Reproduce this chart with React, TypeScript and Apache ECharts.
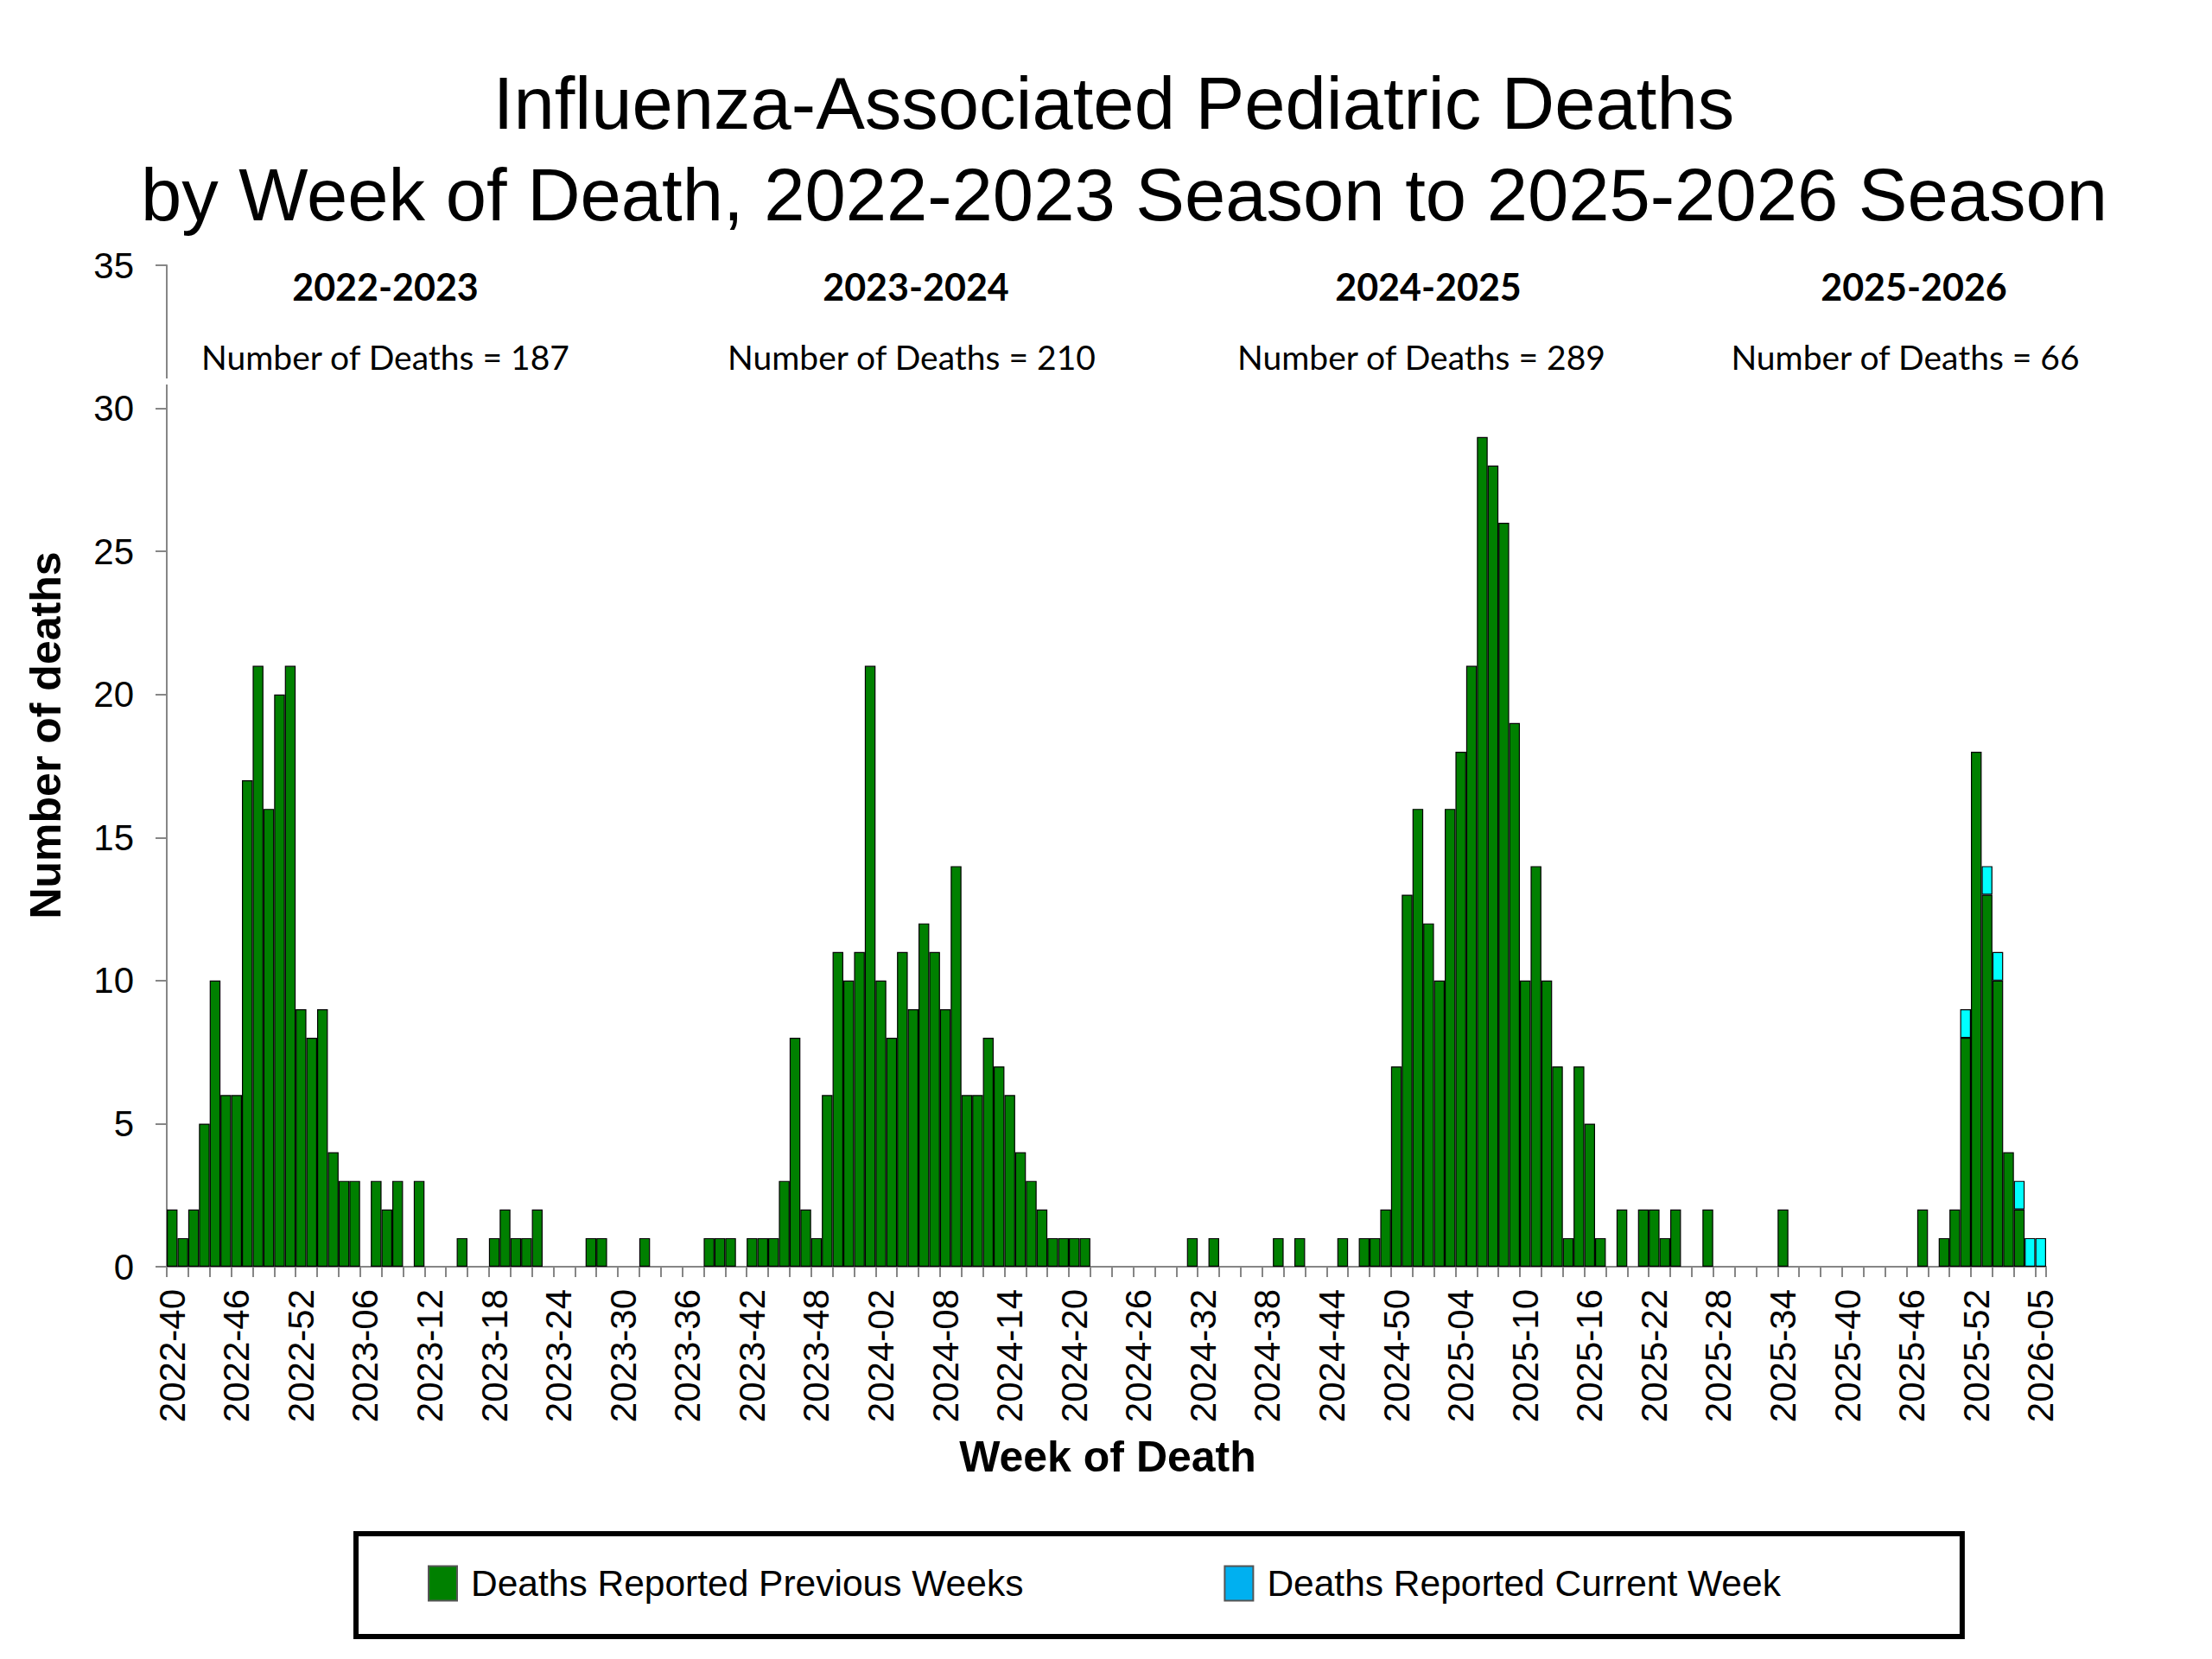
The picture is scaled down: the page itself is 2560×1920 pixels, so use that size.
import { useEffect, useRef } from "react";
import * as echarts from "echarts";

// MMWR weeks shown on the axis, 2022-40 through 2026-05 (2025 has 53 weeks)
const weekRanges = [
  { year: 2022, first: 40, last: 52 },
  { year: 2023, first: 1, last: 52 },
  { year: 2024, first: 1, last: 52 },
  { year: 2025, first: 1, last: 53 },
  { year: 2026, first: 1, last: 5 },
];

const weeks: string[] = [];
weekRanges.forEach((r) => {
  for (let w = r.first; w <= r.last; w++) {
    weeks.push(r.year + "-" + String(w).padStart(2, "0"));
  }
});

// deaths reported in previous weeks, one value per week
const previousWeeks = [
  2, 1, 2, 5, 10, 6, 6, 17, 21, 16, 20, 21, 9, // 2022-40..52
  8, 9, 4, 3, 3, 0, 3, 2, 3, 0, 3, 0, 0, // 2023-01..13
  0, 1, 0, 0, 1, 2, 1, 1, 2, 0, 0, 0, 0, // 2023-14..26
  1, 1, 0, 0, 0, 1, 0, 0, 0, 0, 0, 1, 1, // 2023-27..39
  1, 0, 1, 1, 1, 3, 8, 2, 1, 6, 11, 10, 11, // 2023-40..52
  21, 10, 8, 11, 9, 12, 11, 9, 14, 6, 6, 8, 7, // 2024-01..13
  6, 4, 3, 2, 1, 1, 1, 1, 0, 0, 0, 0, 0, // 2024-14..26
  0, 0, 0, 0, 1, 0, 1, 0, 0, 0, 0, 0, 1, // 2024-27..39
  0, 1, 0, 0, 0, 1, 0, 1, 1, 2, 7, 13, 16, // 2024-40..52
  12, 10, 16, 18, 21, 29, 28, 26, 19, 10, 14, 10, 7, // 2025-01..13
  1, 7, 5, 1, 0, 2, 0, 2, 2, 1, 2, 0, 0, // 2025-14..26
  2, 0, 0, 0, 0, 0, 0, 2, 0, 0, 0, 0, 0, // 2025-27..39
  0, 0, 0, 0, 0, 0, 0, 2, 0, 1, 2, 8, 18, // 2025-40..52
  13, 10, 4, 2, 0, 0, // 2025-53, 2026-01..05
];

// deaths reported in the current week
const currentWeek = [
  0, 0, 0, 0, 0, 0, 0, 0, 0, 0, 0, 0, 0,
  0, 0, 0, 0, 0, 0, 0, 0, 0, 0, 0, 0, 0,
  0, 0, 0, 0, 0, 0, 0, 0, 0, 0, 0, 0, 0,
  0, 0, 0, 0, 0, 0, 0, 0, 0, 0, 0, 0, 0,
  0, 0, 0, 0, 0, 0, 0, 0, 0, 0, 0, 0, 0,
  0, 0, 0, 0, 0, 0, 0, 0, 0, 0, 0, 0, 0,
  0, 0, 0, 0, 0, 0, 0, 0, 0, 0, 0, 0, 0,
  0, 0, 0, 0, 0, 0, 0, 0, 0, 0, 0, 0, 0,
  0, 0, 0, 0, 0, 0, 0, 0, 0, 0, 0, 0, 0,
  0, 0, 0, 0, 0, 0, 0, 0, 0, 0, 0, 0, 0,
  0, 0, 0, 0, 0, 0, 0, 0, 0, 0, 0, 0, 0,
  0, 0, 0, 0, 0, 0, 0, 0, 0, 0, 0, 0, 0,
  0, 0, 0, 0, 0, 0, 0, 0, 0, 0, 0, 1, 0,
  1, 1, 0, 1, 1, 1,
];

const seasons = ["2022-2023", "2023-2024", "2024-2025", "2025-2026"];
const seasonTotals = [187, 210, 289, 66];

const yTicks = { min: 0, max: 35, interval: 5 };

const ARIAL = '"Liberation Sans", Arial, sans-serif';
const CALIBRI = 'Lato, "Noto Sans", sans-serif';

const toBar = (v: number) => (v === 0 ? "-" : v);

function App() {
  const chartRef = useRef<HTMLDivElement>(null);

  useEffect(() => {
    document.body.style.margin = "0";
    if (!chartRef.current) return;
    const chart = echarts.init(chartRef.current, null, { renderer: "svg" });

    // centres of the season captions
    const headX = [446, 1060, 1653, 2215];
    const countX = [446, 1055, 1645, 2205];

    const seasonTexts: any[] = [];
    seasons.forEach((s, i) => {
      seasonTexts.push({
        type: "text",
        x: headX[i],
        y: 331,
        style: {
          text: s,
          fontFamily: CALIBRI,
          fontWeight: "bold",
          fontSize: 43,
          fill: "#000",
          align: "center",
          verticalAlign: "middle",
        },
      });
      seasonTexts.push({
        type: "text",
        x: countX[i],
        y: 413,
        style: {
          text: "Number of Deaths = " + seasonTotals[i],
          fontFamily: CALIBRI,
          fontSize: 39,
          fill: "#000",
          align: "center",
          verticalAlign: "middle",
        },
      });
    });

    const option = {
      animation: false,
      backgroundColor: "#fff",
      grid: { left: 193, right: 192, top: 307, bottom: 454 },
      legend: {
        left: 412,
        top: 1775,
        orient: "horizontal",
        itemWidth: 33,
        itemHeight: 40,
        itemGap: 232,
        padding: [36, 210, 40, 83],
        borderColor: "#000",
        borderWidth: 6,
        textStyle: {
          fontFamily: ARIAL,
          fontSize: 42.5,
          color: "#000",
          padding: [0, 0, 0, 11],
        },
        data: [
          {
            name: "Deaths Reported Previous Weeks",
            icon: "rect",
            itemStyle: { color: "#008000", borderColor: "#555", borderWidth: 2 },
          },
          {
            name: "Deaths Reported Current Week",
            icon: "rect",
            itemStyle: { color: "#00B0F0", borderColor: "#555", borderWidth: 2 },
          },
        ],
      },
      xAxis: {
        type: "category",
        data: weeks,
        boundaryGap: true,
        axisLine: { show: true, lineStyle: { color: "#868686", width: 2 } },
        axisTick: {
          show: true,
          interval: 1,
          length: 12,
          lineStyle: { color: "#868686", width: 2 },
        },
        axisLabel: {
          interval: 5,
          rotate: 90,
          margin: 26,
          fontFamily: ARIAL,
          fontSize: 42,
          color: "#000",
        },
        splitLine: { show: false },
      },
      yAxis: {
        type: "value",
        min: yTicks.min,
        max: yTicks.max,
        interval: yTicks.interval,
        axisLine: { show: true, lineStyle: { color: "#868686", width: 2 } },
        axisTick: { show: true, length: 13, lineStyle: { color: "#868686", width: 2 } },
        axisLabel: {
          margin: 38,
          fontFamily: ARIAL,
          fontSize: 42,
          color: "#000",
        },
        splitLine: { show: false },
      },
      series: [
        {
          name: "Deaths Reported Previous Weeks",
          type: "bar",
          stack: "deaths",
          barCategoryGap: "0%",
          itemStyle: { color: "#008000", borderColor: "#000", borderWidth: 1.2 },
          data: previousWeeks.map(toBar),
        },
        {
          name: "Deaths Reported Current Week",
          type: "bar",
          stack: "deaths",
          barCategoryGap: "0%",
          itemStyle: { color: "#00FFFF", borderColor: "#000", borderWidth: 1.2 },
          data: currentWeek.map(toBar),
        },
      ],
      graphic: [
        {
          type: "text",
          x: 1289,
          y: 119,
          style: {
            text: "Influenza-Associated Pediatric Deaths",
            fontFamily: ARIAL,
            fontSize: 85,
            fill: "#000",
            align: "center",
            verticalAlign: "middle",
          },
        },
        {
          type: "text",
          x: 1301,
          y: 225,
          style: {
            text: "by Week of Death, 2022-2023 Season to 2025-2026 Season",
            fontFamily: ARIAL,
            fontSize: 85,
            fill: "#000",
            align: "center",
            verticalAlign: "middle",
          },
        },
        {
          type: "text",
          x: 53,
          y: 851,
          rotation: Math.PI / 2,
          style: {
            text: "Number of deaths",
            fontFamily: ARIAL,
            fontWeight: "bold",
            fontSize: 50,
            fill: "#000",
            align: "center",
            verticalAlign: "middle",
          },
        },
        {
          type: "text",
          x: 1282,
          y: 1686,
          style: {
            text: "Week of Death",
            fontFamily: ARIAL,
            fontWeight: "bold",
            fontSize: 50,
            fill: "#000",
            align: "center",
            verticalAlign: "middle",
          },
        },
        // white gap in the y axis line under the caption box
        {
          type: "rect",
          z: 100,
          shape: { x: 186, y: 438, width: 14, height: 7 },
          style: { fill: "#fff" },
        },
        ...seasonTexts,
      ],
    };

    chart.setOption(option);

    return () => {
      chart.dispose();
    };
  }, []);

  return <div ref={chartRef} style={{ width: 2560, height: 1920 }} />;
}

export default App;
